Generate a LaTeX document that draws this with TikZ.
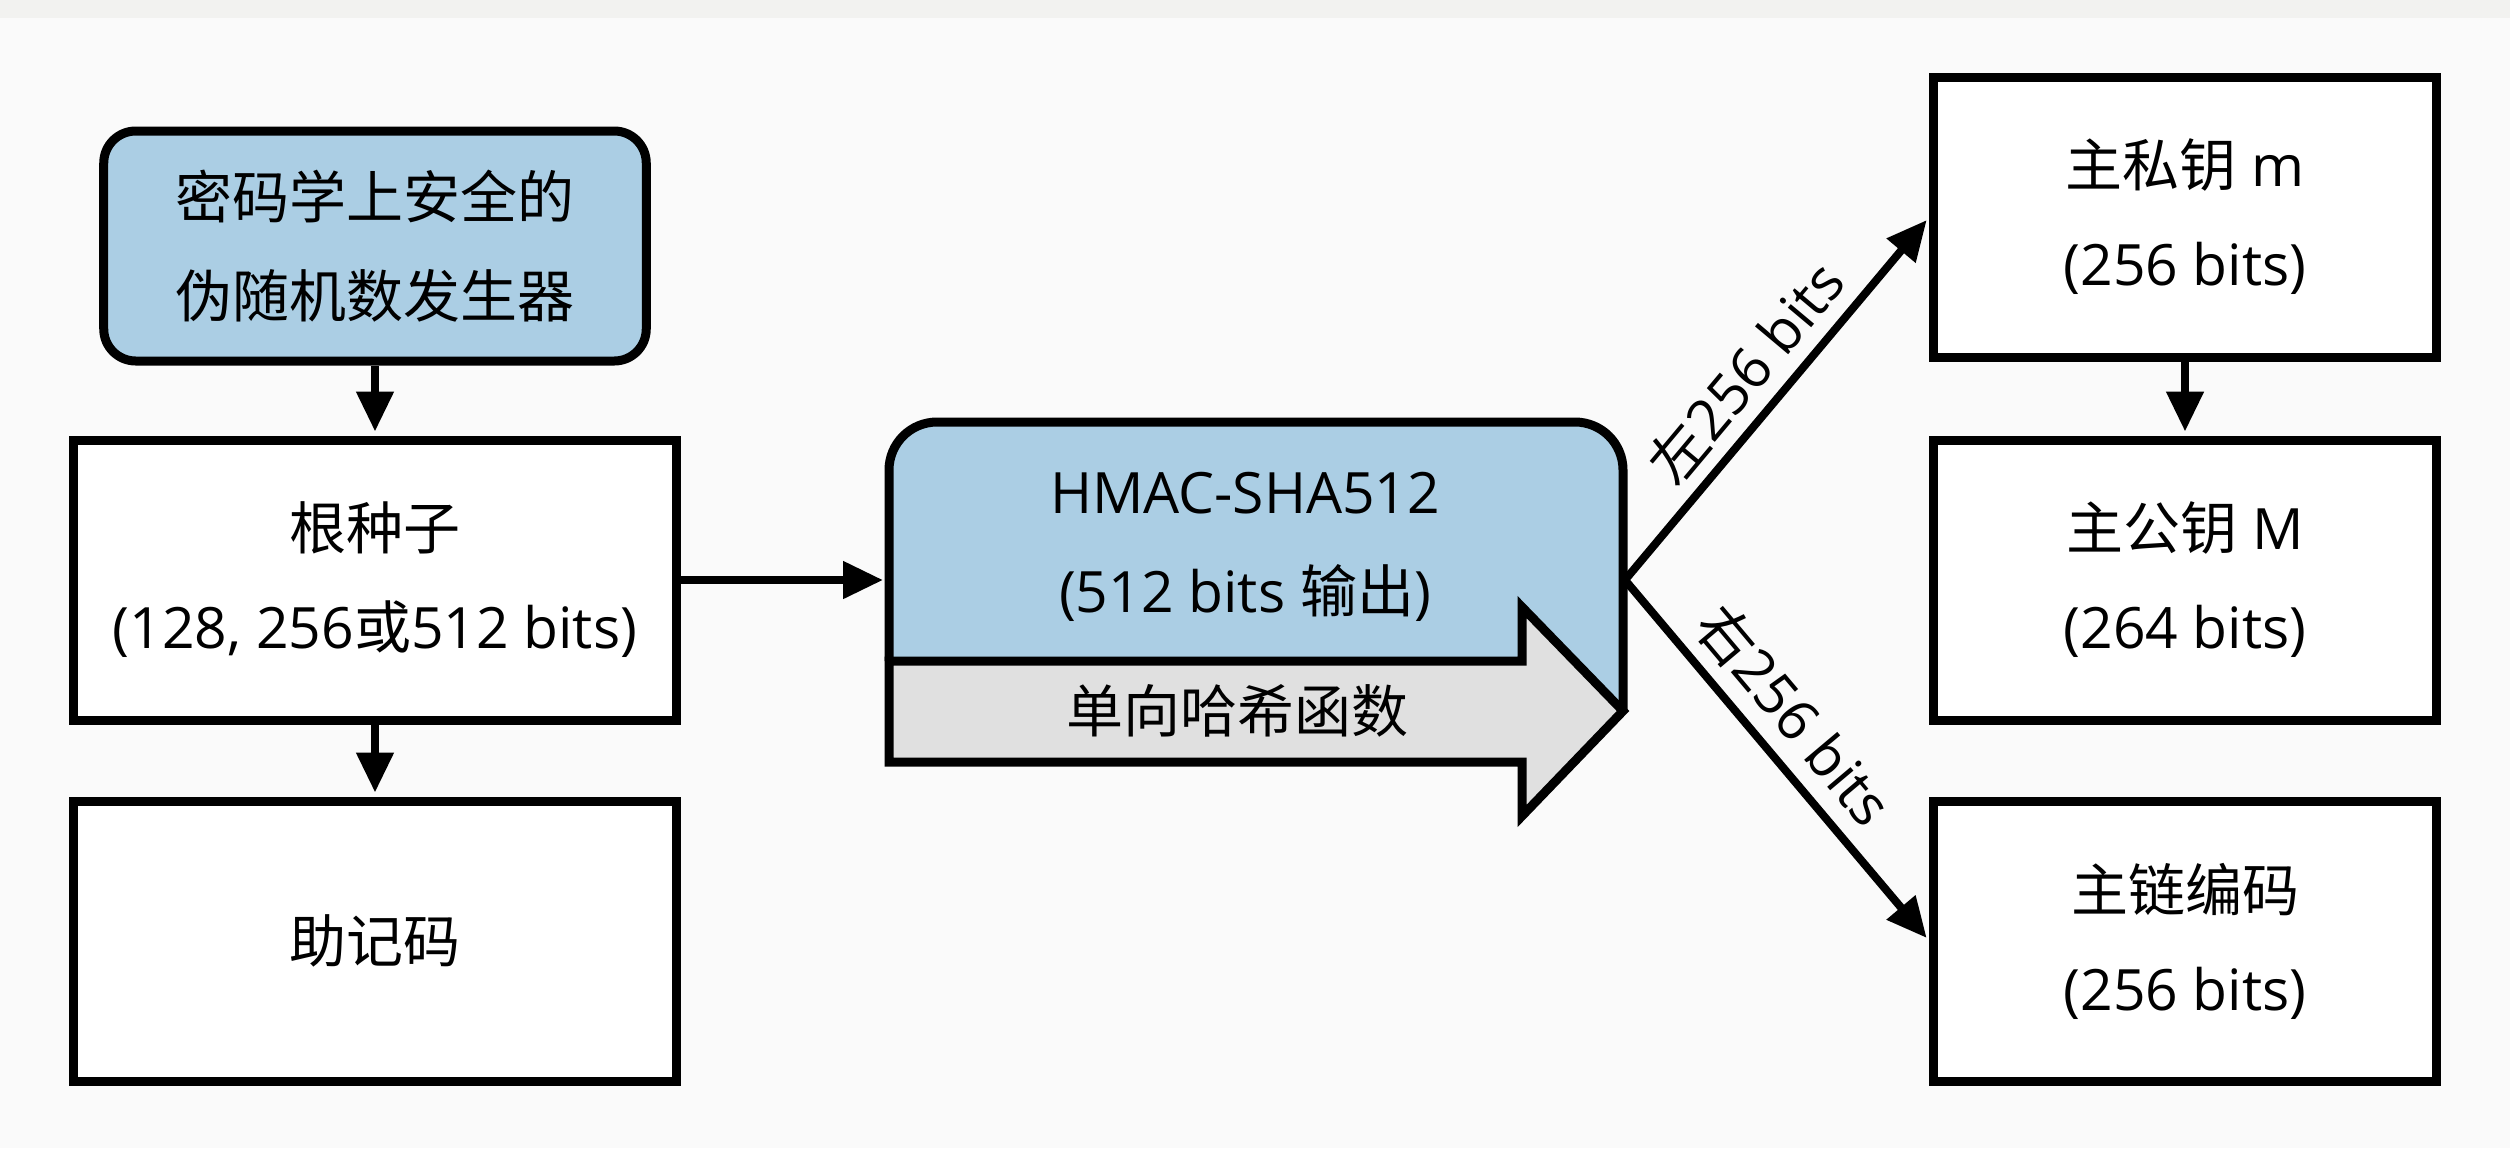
\documentclass[tikz,border=0pt]{standalone}
\usepackage{fontspec}
\setmainfont{Open Sans}
\newfontfamily\cjk{Noto Sans CJK SC}
\usetikzlibrary{arrows.meta}
\definecolor{paper}{HTML}{FAFAFA}
\definecolor{band}{HTML}{F2F2F0}
\definecolor{skyfill}{HTML}{ABCEE4}
\definecolor{pipefill}{HTML}{E0E0E0}
\begin{document}
\begin{tikzpicture}[x=0.4pt,y=-0.4pt,
  txt/.style={font=\fontsize{22.8pt}{39.6pt}\selectfont, align=center},
  box/.style={txt, draw, line width=3.6pt, fill=white, inner sep=0pt,
    minimum width=241pt, minimum height=112pt},
  keybox/.style={box, minimum width=201pt, minimum height=112pt},
  gen/.style={box, fill=skyfill, rounded corners=12.8pt,
    minimum width=217pt, minimum height=92pt},
  arr/.style={line width=3.2pt, shorten >=1.6pt,
    -{Triangle[length=16pt,width=14.4pt]}},
  lbl/.style={txt, inner sep=5pt}]

% page and the faint strip along the top
\fill[paper] (0,0) rectangle (2510,1148);
\fill[band] (0,0) rectangle (2510,18);

% left column
\node[gen] (prng) at (375,246) {{\cjk 密码学上安全的}\\{\cjk 伪随机数发生器}};
\node[box] (seed) at (375,580) {{\cjk 根种子}\\(128, 256{\cjk 或}512 bits)};
\node[box] (mnem) at (375,941) {{\cjk 助记码}};

% right column
\node[keybox] (priv) at (2185,217) {{\cjk 主私钥} m\\(256 bits)};
\node[keybox] (pub) at (2185,580) {{\cjk 主公钥} M\\(264 bits)};
\node[keybox] (chain) at (2185,941) {{\cjk 主链编码}\\(256 bits)};

% HMAC block: rounded blue top over a grey one-way arrow
\fill[skyfill] (889,661) -- (889,470) arc[start angle=180,end angle=270,radius=48]
  -- (1575,422) arc[start angle=270,end angle=360,radius=48]
  -- (1623,711) -- (1522,607) -- (1522,661) -- cycle;
\draw[line width=3.6pt] (889,661) -- (889,470) arc[start angle=180,end angle=270,radius=48]
  -- (1575,422) arc[start angle=270,end angle=360,radius=48] -- (1623,711);
\draw[line width=3.6pt, fill=pipefill] (889,661) -- (1522,661) -- (1522,607)
  -- (1623,711) -- (1522,816) -- (1522,762) -- (889,762) -- cycle;
\node[txt] (hmac) at (1245,547) {HMAC-SHA512\\(512 bits {\cjk 输出})};
\node[txt] (oneway) at (1237,711) {{\cjk 单向哈希函数}};
\coordinate (hin) at (887,580);
\coordinate (hout) at (1625,580);

% connectors
\draw[arr] (prng) -- (seed);
\draw[arr] (seed) -- (mnem);
\draw[arr] (seed.east) -- (hin);
\draw[arr] (priv) -- (pub);
\draw[arr] (hout) -- node[lbl, above, sloped, pos=0.5] {{\cjk 左}256 bits} (priv.west);
\draw[arr] (hout) -- node[lbl, above, sloped, pos=0.45] {{\cjk 右}256 bits} (chain.west);

\useasboundingbox (0,0) rectangle (2510,1148);
\end{tikzpicture}
\end{document}
